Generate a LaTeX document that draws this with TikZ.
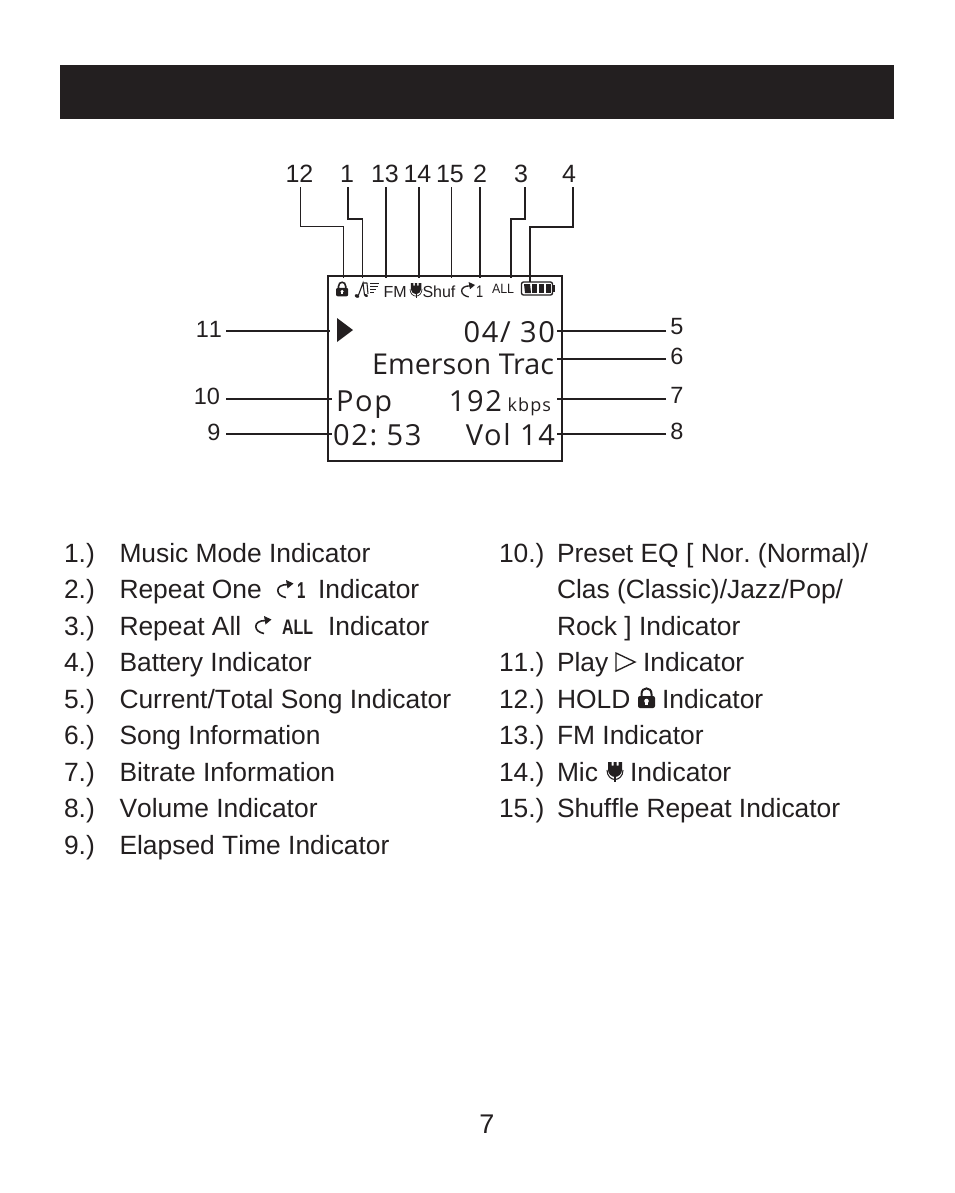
\documentclass[tikz,border=0pt]{standalone}
\usepackage{fontspec}
\setmainfont[Kerning=Off]{Liberation Sans}
\newfontfamily\lcdfont{Open Sans}
\newfontfamily\lcdwide[LetterSpace=6]{Open Sans}
\newcommand\fs[1]{\fontsize{\dimexpr#1pt*3/4\relax}{\dimexpr#1pt*9/10\relax}\selectfont}
\definecolor{ink}{HTML}{231F20}
\frenchspacing
\tikzset{
  x=0.75pt,y=-0.75pt,
  every node/.style={inner sep=0pt,outer sep=0pt,text=ink},
  lead/.style={draw=ink,line width=1.5pt,line join=miter},
  leadthin/.style={draw=ink,line width=0.7pt},
  toplabel/.style={anchor=base,font=\fs{25}},
  sidelabel/.style={anchor=base,font=\fs{23.5}},
  bodytext/.style={anchor=base west,font=\fs{26.4}},
  lcdtext/.style={anchor=base east,font={\lcdwide\fs{29}}},
  statustext/.style={anchor=base west,font=\fs{16}},
  pics/lockicon/.style={code={
    \draw[ink,line width=#1] (3.5,9) -- (3.5,6) .. controls (3.5,-1.5) and (13.5,-1.5) .. (13.5,6) -- (13.5,9);
    \fill[ink,rounded corners=1.5] (0,8) rectangle (17,20);
    \fill[white] (8.5,13) circle (2.3);
    \fill[white] (7.4,13) rectangle (9.6,17);
  }},
  pics/micicon/.style={code={
    \fill[ink] (1,0) -- (4.5,0) -- (4.5,3.5) -- (6.5,3.5) -- (6.5,0) -- (9.5,0) -- (9.5,3.5) -- (11.5,3.5) -- (11.5,0) -- (15,0) -- (15,8) .. controls (15,12) and (11,15) .. (8,15) .. controls (5,15) and (1,12) .. (1,8) -- cycle;
    \draw[ink,line width=#1] (0,8) .. controls (0,14) and (4,17.5) .. (8,17.5) .. controls (12,17.5) and (16,14) .. (16,8);
    \draw[ink,line width=#1] (8,15) -- (8,20);
  }},
  pics/repeaticon/.style={code={
    \draw[ink,line width=#1] (11,4.5) .. controls (4,4.5) and (0.8,7) .. (0.8,10.5) .. controls (0.8,14) and (4,16.5) .. (9,17.5);
    \fill[ink] (9,0) -- (16.5,3.5) -- (10.5,8.5) -- cycle;
  }},
  pics/noteicon/.style={code={
    \draw[ink,line width=0.8pt] (3.5,13) -- (8,1) -- (9.5,13);
    \draw[ink,line width=0.8pt] (8,1) -- (12,1) (12,1) -- (13,12);
    \fill[ink,rotate around={-25:(2,14)}] (2,14) ellipse (2.4 and 1.7);
    \fill[ink,rotate around={-25:(11,13.5)}] (11,13.5) ellipse (2 and 1.3);
    \draw[ink,line width=0.7pt] (15,1.5) -- (24,1.5) (15,4.5) -- (23,4.5) (15,7.5) -- (21,7.5) (15,10.5) -- (19,10.5);
  }},
}
\begin{document}
\begin{tikzpicture}
\useasboundingbox (0,0) rectangle (954,1193);
\fill[white] (0,0) rectangle (954,1193);
% header bar
\fill[ink] (60,65) rectangle (894,119);
% LCD box
\node[draw=ink,line width=1.6pt,minimum width=234*0.75pt,minimum height=185*0.75pt,anchor=north west] (lcd) at (328,276) {};

% top labels
\node[toplabel] (l12) at (299.5,182) {12};
\node[toplabel] (l1) at (347,182) {1};
\node[toplabel] (l13) at (385,182) {13};
\node[toplabel] (l14) at (417.5,182) {14};
\node[toplabel] (l15) at (450,182) {15};
\node[toplabel] (l2) at (480,182) {2};
\node[toplabel] (l3) at (521,182) {3};
\node[toplabel] (l4) at (569,182) {4};
% side labels
\node[sidelabel] (l11) at (209,337) {11};
\node[sidelabel] (l10) at (207,404) {10};
\node[sidelabel] (l9) at (214,440) {9};
\node[sidelabel] (l5) at (677,334) {5};
\node[sidelabel] (l6) at (677,364) {6};
\node[sidelabel] (l7) at (677,403) {7};
\node[sidelabel] (l8) at (677,439) {8};

% connector ends
\foreach \n/\x/\yy in {a12/300.7/187,a1/348/187,a13/386/187,a14/418.7/187,a15/451.3/187,a2/480/187,a3/525/187,a4/573.3/187,
  b12/343.3/278,b1/362.7/278,b13/386/278,b14/418.7/278,b15/451.3/278,b2/480/278,b3/510.7/278,b4/530/282,
  s11/226/330.7,e11/330/330.7,s10/226/399,e10/332/399,s9/226/433.7,e9/332/433.7,
  s5/666/330.7,e5/557/330.7,s6/666/359.3,e6/557/359.3,s7/666/399,e7/557/399,s8/666/433.7,e8/557/433.7}
  {\coordinate (\n) at (\x,\yy);}
\coordinate (k12) at (300.7,226.7);
\coordinate (k1) at (348,219);
\coordinate (k3) at (525,219);
\coordinate (k4) at (573.3,226.7);

\draw[leadthin,line width=1pt] (a12) |- (b12 |- k12) -- (b12);
\draw[lead] (a1) |- (b1 |- k1);
\draw[leadthin] (b1 |- k1) -- (b1);
\draw[lead] (a13) -- (b13);
\draw[lead] (a14) -- (b14);
\draw[leadthin] (a15) -- (b15);
\draw[lead] (a2) -- (b2);
\draw[lead] (a3) |- (b3 |- k3) -- (b3);
\draw[lead] (a4) |- (b4 |- k4) -- (b4);
\foreach \n in {11,10,9,5,6,7,8} {\draw[lead] (s\n) -- (e\n);}

% status row
\pic at (336,282) [scale=0.72] {lockicon=1.2pt};
\pic at (355,282) {noteicon};
\node[statustext] (fm) at (383.5,297) {FM};
\pic at (410,283) [scale=0.75] {micicon=0.5pt};
\node[statustext] (shuf) at (422.5,297) {Shuf};
\pic at (461,282) [scale=0.85] {repeaticon=1pt};
\node[statustext] (one) at (476,297) {\scalebox{0.8}[1.05]{1}};
\node[statustext,font=\fs{13.5}] (all) at (492,293.5) {\scalebox{0.92}[1]{ALL}};
\draw[ink,line width=1pt,rounded corners=1.5] (521.5,282) rectangle (552.5,295);
\fill[ink] (553,285) rectangle (555,292);
\fill[ink] (524,284) -- (530,284) -- (531,293) -- (525,293) -- cycle;
\fill[ink] (532,284) rectangle (537,293);
\fill[ink] (539,284) rectangle (544,293);
\fill[ink] (546,284) rectangle (550.5,293);

% LCD text
\fill[ink] (337,318) -- (353,330) -- (337,342) -- cycle;
\node[lcdtext] (cnt) at (555,342) {04/ 30};
\node[lcdtext,font={\lcdfont\fs{28.7}}] (song) at (554,374) {Emerson Trac};
\node[lcdtext,anchor=base west] (eq) at (336,411) {Pop};
\node[lcdtext] (rate) at (502,411) {192};
\node[lcdtext,font={\lcdwide\fs{18}}] (kbps) at (551,411) {kbps};
\node[lcdtext,anchor=base west] (time) at (333,445) {02: 53};
\node[lcdtext] (vol) at (555,445) {Vol 14};

% left column
\foreach \i/\t [count=\c from 0] in {1.)/Music Mode Indicator,2.)/Repeat One,3.)/Repeat All,4.)/Battery Indicator,5.)/Current{/}Total Song Indicator,6.)/Song Information,7.)/Bitrate Information,8.)/Volume Indicator,9.)/Elapsed Time Indicator}
{
  \node[bodytext] (n\c) at (64,562+36.5*\c) {\i};
  \node[bodytext] (t\c) at (119.5,562+36.5*\c) {\t};
}
\node[bodytext] (ind2) at (318,598.5) {Indicator};
\node[bodytext] (ind3) at (328,635) {Indicator};
\pic at (277,580) {repeaticon=1.2pt};
\node[anchor=base west,font={\bfseries\fs{23}}] (one2) at (297,598.5) {\scalebox{0.65}[1]{1}};
\pic at (255,616) {repeaticon=1.2pt};
\node[anchor=base west,font={\bfseries\fs{21}}] (all2) at (282,634) {\scalebox{0.76}[1]{ALL}};

% right column
\foreach \i/\t/\r in {10.)/{Preset EQ [ Nor. (Normal)/}/0,11.)/Play/3,12.)/HOLD/4,13.)/FM Indicator/5,14.)/Mic/6,15.)/Shuffle Repeat Indicator/7}
{
  \node[bodytext] (m\r) at (499,562+36.5*\r) {\i};
  \node[bodytext] (u\r) at (557,562+36.5*\r) {\t};
}
\node[bodytext] (u1) at (557,598.5) {Clas (Classic)/Jazz/Pop/};
\node[bodytext] (u2) at (557,635) {Rock ] Indicator};
\node[bodytext] (ind11) at (643,671.5) {Indicator};
\node[bodytext] (ind12) at (662,708) {Indicator};
\node[bodytext] (ind14) at (630,781) {Indicator};
\draw[ink,line width=1pt,line join=miter] (616,653) -- (635,662) -- (616,671) -- cycle;
\pic at (638,688) {lockicon=1.5pt};
\pic at (607,762) {micicon=0.8pt};

% page number
\node[anchor=base,font=\fs{27}] (page) at (487,1133) {7};
\end{tikzpicture}
\end{document}
